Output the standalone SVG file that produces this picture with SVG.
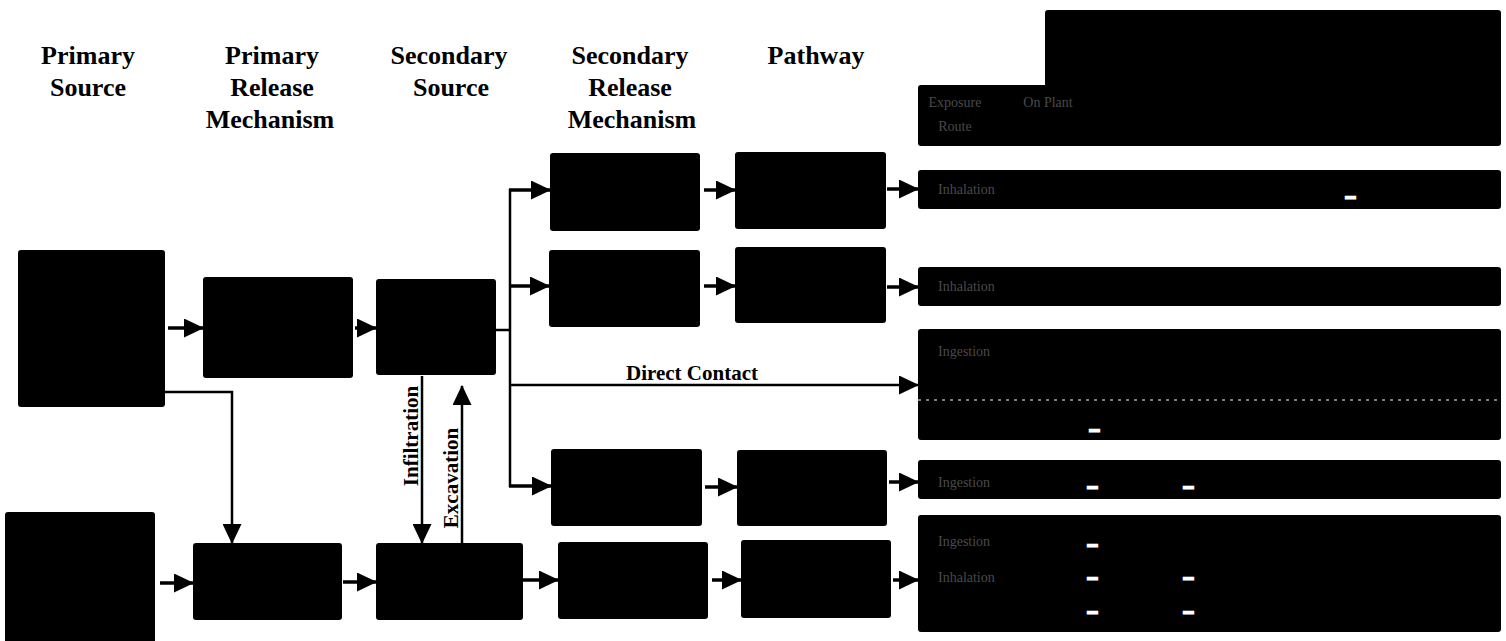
<svg xmlns="http://www.w3.org/2000/svg" width="1506" height="641" viewBox="0 0 1506 641">
<style>
.hd{font-family:"Liberation Serif",serif;font-weight:bold;font-size:26px;fill:#000;text-anchor:middle}
.lb{font-family:"Liberation Serif",serif;font-weight:bold;font-size:21px;fill:#000}
.bx{fill:#000}
.ft{font-family:"Liberation Serif",serif;font-size:14px;fill:#4a4a4a}
.ftc{font-family:"Liberation Serif",serif;font-size:14px;fill:#4a4a4a;text-anchor:middle}
.ds{font-family:"Liberation Sans",sans-serif;font-size:16px;fill:#fff;stroke:#fff;stroke-width:2.5}
.ar{stroke:#000;stroke-width:3.5;fill:none;marker-end:url(#ah)}
.ln{stroke:#000;stroke-width:2.5;fill:none}
.ln2{stroke:#000;stroke-width:2.5;fill:none;marker-end:url(#ah)}
</style>
<defs>
<marker id="ah" markerUnits="userSpaceOnUse" markerWidth="20" markerHeight="19" refX="19" refY="9.5" orient="auto">
<path d="M0,0 L20,9.5 L0,19 z" fill="#000"/>
</marker>
</defs>
<rect width="1506" height="641" fill="#fff"/>
<g id="headers">
<text class="hd" x="88" y="64">Primary</text>
<text class="hd" x="88" y="96">Source</text>
<text class="hd" x="272" y="64">Primary</text>
<text class="hd" x="272" y="96">Release</text>
<text class="hd" x="270" y="128">Mechanism</text>
<text class="hd" x="449" y="64">Secondary</text>
<text class="hd" x="451" y="96">Source</text>
<text class="hd" x="630" y="64">Secondary</text>
<text class="hd" x="630" y="96">Release</text>
<text class="hd" x="632" y="128">Mechanism</text>
<text class="hd" x="816" y="64">Pathway</text>
</g>
<g id="connectors">
<line class="ar" x1="168" y1="328" x2="203" y2="328"/>
<line class="ar" x1="355" y1="328" x2="376" y2="328"/>
<path class="ln" d="M496,330 H510"/>
<path class="ln" d="M510,189 V487"/>
<line class="ar" x1="509" y1="190" x2="550" y2="190"/>
<line class="ar" x1="509" y1="286" x2="549" y2="286"/>
<line class="ln2" x1="509" y1="385" x2="918" y2="385"/>
<line class="ar" x1="509" y1="486" x2="551" y2="486"/>
<line class="ar" x1="704" y1="190" x2="735" y2="190"/>
<line class="ar" x1="704" y1="286" x2="735" y2="286"/>
<line class="ar" x1="705" y1="487" x2="737" y2="487"/>
<line class="ar" x1="712" y1="580" x2="741" y2="580"/>
<line class="ar" x1="887" y1="189" x2="918" y2="189"/>
<line class="ar" x1="887" y1="287" x2="918" y2="287"/>
<line class="ar" x1="889" y1="482" x2="918" y2="482"/>
<line class="ar" x1="893" y1="580" x2="918" y2="580"/>
<path class="ln2" d="M165,392 H232 V543"/>
<line class="ar" x1="160" y1="583" x2="193" y2="583"/>
<line class="ar" x1="343" y1="582" x2="376" y2="582"/>
<line class="ar" x1="523" y1="580" x2="558" y2="580"/>
<line class="ln2" x1="422" y1="376" x2="422" y2="543"/>
<line class="ln2" x1="462" y1="543" x2="462" y2="386"/>
<text class="lb" x="692" y="380" text-anchor="middle">Direct Contact</text>
<text class="lb" transform="translate(418,436) rotate(-90)" text-anchor="middle">Infiltration</text>
<text class="lb" transform="translate(458,478) rotate(-90)" text-anchor="middle">Excavation</text>
</g>
<g id="ps1"><rect class="bx" x="18" y="250" width="147" height="157" rx="3"/></g>
<g id="ps2"><rect class="bx" x="5" y="512" width="150" height="135" rx="3"/></g>
<g id="pr1"><rect class="bx" x="203" y="277" width="150" height="101" rx="3"/></g>
<g id="ss1"><rect class="bx" x="376" y="279" width="120" height="96" rx="3"/></g>
<g id="pr2"><rect class="bx" x="193" y="543" width="149" height="77" rx="3"/></g>
<g id="ss2"><rect class="bx" x="376" y="543" width="147" height="77" rx="3"/></g>
<g id="sr1"><rect class="bx" x="550" y="153" width="150" height="78" rx="3"/></g>
<g id="sr2"><rect class="bx" x="549" y="250" width="151" height="77" rx="3"/></g>
<g id="sr3"><rect class="bx" x="551" y="449" width="151" height="77" rx="3"/></g>
<g id="sr4"><rect class="bx" x="558" y="542" width="150" height="77" rx="3"/></g>
<g id="pw1"><rect class="bx" x="735" y="152" width="151" height="77" rx="3"/></g>
<g id="pw2"><rect class="bx" x="735" y="247" width="151" height="76" rx="3"/></g>
<g id="pw3"><rect class="bx" x="737" y="450" width="150" height="76" rx="3"/></g>
<g id="pw4"><rect class="bx" x="741" y="540" width="150" height="78" rx="3"/></g>
<g id="receptor-table">
<path class="bx" d="M1048,10 H1498 Q1501,10 1501,13 V143 Q1501,146 1498,146 H921 Q918,146 918,143 V88 Q918,85 921,85 H1045 V13 Q1045,10 1048,10 z"/>
<text class="ftc" x="955" y="107">Exposure</text>
<text class="ftc" x="955" y="131">Route</text>
<text class="ftc" x="1048" y="107">On Plant</text>
</g>
<g id="row1">
<rect class="bx" x="918" y="170" width="583" height="39" rx="3"/>
<text class="ft" x="938" y="194">Inhalation</text>
<text class="ds" x="1346" y="202">–</text>
</g>
<g id="row2">
<rect class="bx" x="918" y="267" width="583" height="39" rx="3"/>
<text class="ft" x="938" y="291">Inhalation</text>
</g>
<g id="row3">
<rect class="bx" x="918" y="329" width="583" height="111" rx="3"/>
<line x1="918" y1="400" x2="1501" y2="400" stroke="#fff" stroke-width="1" stroke-dasharray="3,5"/>
<text class="ft" x="938" y="356">Ingestion</text>
<text class="ds" x="1090" y="435">–</text>
</g>
<g id="row4">
<rect class="bx" x="918" y="460" width="583" height="39" rx="3"/>
<text class="ft" x="938" y="487">Ingestion</text>
<text class="ds" x="1088" y="492">–</text>
<text class="ds" x="1184" y="492">–</text>
</g>
<g id="row5">
<rect class="bx" x="918" y="515" width="583" height="117" rx="3"/>
<text class="ft" x="938" y="546">Ingestion</text>
<text class="ft" x="938" y="582">Inhalation</text>
<text class="ds" x="1088" y="550">–</text>
<text class="ds" x="1088" y="583">–</text>
<text class="ds" x="1184" y="583">–</text>
<text class="ds" x="1088" y="617">–</text>
<text class="ds" x="1184" y="617">–</text>
</g>
</svg>
